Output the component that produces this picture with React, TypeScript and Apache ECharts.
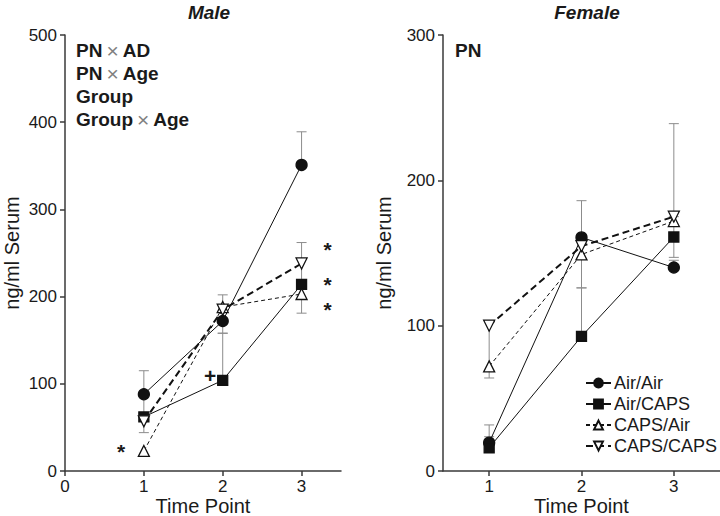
import React, { useEffect, useRef } from "react";
import * as echarts from "echarts";

const timePoints = [1, 2, 3];
const seriesNames = ["Air/Air", "Air/CAPS", "CAPS/Air", "CAPS/CAPS"];

// Male means
const maleAirAir = [88, 172, 351];
const maleAirCaps = [62, 104, 214];
const maleCapsAir = [23, 188, 203];
const maleCapsCaps = [57, 185, 238];
// Male error bar ends (upper / lower), null = none
const maleAirAirHi = [115, 202, 389];
const maleAirAirLo = [62, 158, null];
const maleAirCapsHi = [null, 158, null];
const maleAirCapsLo = [null, null, null];
const maleCapsAirHi = [null, null, 214];
const maleCapsAirLo = [null, null, 181];
const maleCapsCapsHi = [null, null, 262];
const maleCapsCapsLo = [44, null, 214];

// Female means
const femaleAirAir = [19.5, 160.7, 140];
const femaleAirCaps = [16, 92.6, 161];
const femaleCapsAir = [72, 149, 172];
const femaleCapsCaps = [100, 154.7, 175];
const femaleAirAirHi = [31.7, 186, 145];
const femaleAirAirLo = [null, 126, null];
const femaleAirCapsHi = [23.6, 126, 175];
const femaleAirCapsLo = [null, null, 147];
const femaleCapsAirHi = [null, null, null];
const femaleCapsAirLo = [null, null, null];
const femaleCapsCapsHi = [null, null, 239];
const femaleCapsCapsLo = [64, null, null];

// Significance marks [x, y, text]
const maleMarks: [number, number, string][] = [
  [0.71, 22, "*"],
  [1.84, 110, "+"],
  [3.33, 254, "*"],
  [3.33, 214, "*"],
  [3.33, 185, "*"],
];

const maleYTicks = { min: 0, max: 500, interval: 100 };
const femaleYTicks = { min: 0, max: 300, interval: 100 };
const maleXLabels = [0, 1, 2, 3];
const femaleXLabels = [1, 2, 3];

const maleEffects = "PN{x|×}AD\nPN{x|×}Age\nGroup\nGroup{x|×}Age";
const femaleEffects = "PN";

const FONT = "'Liberation Sans', Arial, sans-serif";
const INK = "#1a1a1a";

const styles = [
  { symbol: "circle", fill: "#111", type: "solid", width: 1, rotate: 0 },
  { symbol: "rect", fill: "#111", type: "solid", width: 1, rotate: 0 },
  { symbol: "triangle", fill: "#fff", type: [4, 3], width: 1, rotate: 0 },
  { symbol: "triangle", fill: "#fff", type: [7, 4], width: 2, rotate: 180 },
];

export default function App() {
  const ref = useRef<HTMLDivElement>(null);
  useEffect(() => {
    document.body.style.margin = "0";
    const chart = echarts.init(ref.current!, null, { renderer: "svg" });

    const male = [maleAirAir, maleAirCaps, maleCapsAir, maleCapsCaps];
    const female = [femaleAirAir, femaleAirCaps, femaleCapsAir, femaleCapsCaps];
    const maleHi = [maleAirAirHi, maleAirCapsHi, maleCapsAirHi, maleCapsCapsHi];
    const maleLo = [maleAirAirLo, maleAirCapsLo, maleCapsAirLo, maleCapsCapsLo];
    const femaleHi = [femaleAirAirHi, femaleAirCapsHi, femaleCapsAirHi, femaleCapsCapsHi];
    const femaleLo = [femaleAirAirLo, femaleAirCapsLo, femaleCapsAirLo, femaleCapsCapsLo];

    const errData = (means: number[][], his: (number | null)[][], los: (number | null)[][]) => {
      const out: number[][] = [];
      means.forEach((m, s) => {
        timePoints.forEach((t, i) => {
          if (his[s][i] != null) out.push([t, m[i], his[s][i] as number]);
          if (los[s][i] != null) out.push([t, m[i], los[s][i] as number]);
        });
      });
      return out;
    };

    const renderErr = (params: any, api: any) => {
      const x = api.value(0);
      const p1 = api.coord([x, api.value(1)]);
      const p2 = api.coord([x, api.value(2)]);
      const st = { stroke: "#8c8c8c", lineWidth: 1 };
      return {
        type: "group",
        children: [
          { type: "line", shape: { x1: p1[0], y1: p1[1], x2: p2[0], y2: p2[1] }, style: st },
          { type: "line", shape: { x1: p2[0] - 5, y1: p2[1], x2: p2[0] + 5, y2: p2[1] }, style: st },
        ],
      };
    };

    const renderMark = (params: any, api: any) => {
      const p = api.coord([api.value(0), api.value(1)]);
      return {
        type: "text",
        x: p[0],
        y: p[1],
        style: {
          text: maleMarks[params.dataIndex][2],
          fontSize: 21,
          fontWeight: "bold",
          fontFamily: FONT,
          fill: INK,
          align: "center",
          verticalAlign: "middle",
        },
      };
    };

    const lineSeries = (data: number[][], idx: number) =>
      data.map((vals, s) => ({
        type: "line",
        name: seriesNames[s],
        xAxisIndex: idx,
        yAxisIndex: idx,
        data: timePoints.map((t, i) => [t, vals[i]]),
        symbol: styles[s].symbol,
        symbolSize: styles[s].symbol === "rect" ? 10 : 11,
        symbolRotate: styles[s].rotate,
        showAllSymbol: true,
        z: 3,
        lineStyle: { color: "#111", width: styles[s].width, type: styles[s].type as any },
        itemStyle: { color: styles[s].fill, borderColor: "#111", borderWidth: 1.3 },
        emphasis: { disabled: true },
      }));

    const axisCommon = {
      axisLine: { show: true, lineStyle: { color: "#3a3a3a", width: 1.5 } },
      axisTick: { show: true, length: 5, lineStyle: { color: "#3a3a3a", width: 1.5 } },
      splitLine: { show: false },
      axisLabel: { color: INK, fontSize: 17, lineHeight: 17, fontFamily: FONT, margin: 7 },
      nameTextStyle: { color: INK, fontSize: 20, fontFamily: FONT, lineHeight: 19 },
    };

    const effectText = (text: string, left: number) => ({
      type: "text",
      left,
      top: 39,
      style: {
        text,
        fontFamily: FONT,
        fontSize: 19,
        fontWeight: "bold",
        lineHeight: 23,
        fill: INK,
        rich: {
          x: { fontSize: 21, lineHeight: 23, fontWeight: "normal", fill: "#808080", fontFamily: FONT, padding: [0, 4, 0, 4] },
        },
      },
    });

    const titleStyle = { fontSize: 19, fontStyle: "italic", fontWeight: "bold", color: INK, fontFamily: FONT };

    const xName = {
      name: "Time Point",
      nameLocation: "middle",
      nameGap: 25,
      nameMoveOverlap: false,
    };

    chart.setOption({
      animation: false,
      textStyle: { fontFamily: FONT },
      title: [
        { text: "Male", left: 204, textAlign: "center", top: -2, textStyle: titleStyle },
        { text: "Female", left: 582, textAlign: "center", top: -2, textStyle: titleStyle },
      ],
      grid: [
        { left: 65, top: 35, width: 276, height: 436, outerBoundsMode: "none", containLabel: false },
        { left: 443, top: 35, width: 277, height: 436, outerBoundsMode: "none", containLabel: false },
      ],
      xAxis: [
        {
          ...axisCommon,
          ...xName,
          type: "value",
          gridIndex: 0,
          min: 0,
          max: 3.5,
          axisTick: { ...axisCommon.axisTick, customValues: maleXLabels },
          axisLabel: { ...axisCommon.axisLabel, customValues: maleXLabels },
        },
        {
          ...axisCommon,
          ...xName,
          type: "value",
          gridIndex: 1,
          min: 0.5,
          max: 3.5,
          axisTick: { ...axisCommon.axisTick, customValues: femaleXLabels },
          axisLabel: { ...axisCommon.axisLabel, customValues: femaleXLabels },
        },
      ],
      yAxis: [
        {
          ...axisCommon,
          type: "value",
          gridIndex: 0,
          ...maleYTicks,
          axisLabel: { ...axisCommon.axisLabel, margin: 8 },
          name: "ng/ml Serum",
          nameLocation: "middle",
          nameGap: 44,
        },
        {
          ...axisCommon,
          type: "value",
          gridIndex: 1,
          ...femaleYTicks,
          axisLabel: { ...axisCommon.axisLabel, margin: 8 },
          name: "ng/ml Serum",
          nameLocation: "middle",
          nameGap: 50,
        },
      ],
      legend: {
        orient: "vertical",
        left: 580,
        top: 369,
        itemWidth: 25,
        itemHeight: 11,
        itemGap: 3,
        data: seriesNames,
        selectedMode: false,
        textStyle: { fontSize: 18, color: INK, fontFamily: FONT, lineHeight: 18, padding: [0, 0, 0, -2] },
      },
      graphic: [effectText(maleEffects, 76), effectText(femaleEffects, 455)],
      series: [
        {
          type: "custom",
          xAxisIndex: 0,
          yAxisIndex: 0,
          z: 1,
          renderItem: renderErr,
          data: errData(male, maleHi, maleLo),
          silent: true,
        },
        {
          type: "custom",
          xAxisIndex: 1,
          yAxisIndex: 1,
          z: 1,
          renderItem: renderErr,
          data: errData(female, femaleHi, femaleLo),
          silent: true,
        },
        ...lineSeries(male, 0),
        ...lineSeries(female, 1),
        {
          type: "custom",
          xAxisIndex: 0,
          yAxisIndex: 0,
          z: 4,
          silent: true,
          renderItem: renderMark,
          data: maleMarks.map((m) => [m[0], m[1]]),
        },
      ],
    });
    return () => chart.dispose();
  }, []);
  return <div ref={ref} style={{ width: 720, height: 516 }} />;
}
